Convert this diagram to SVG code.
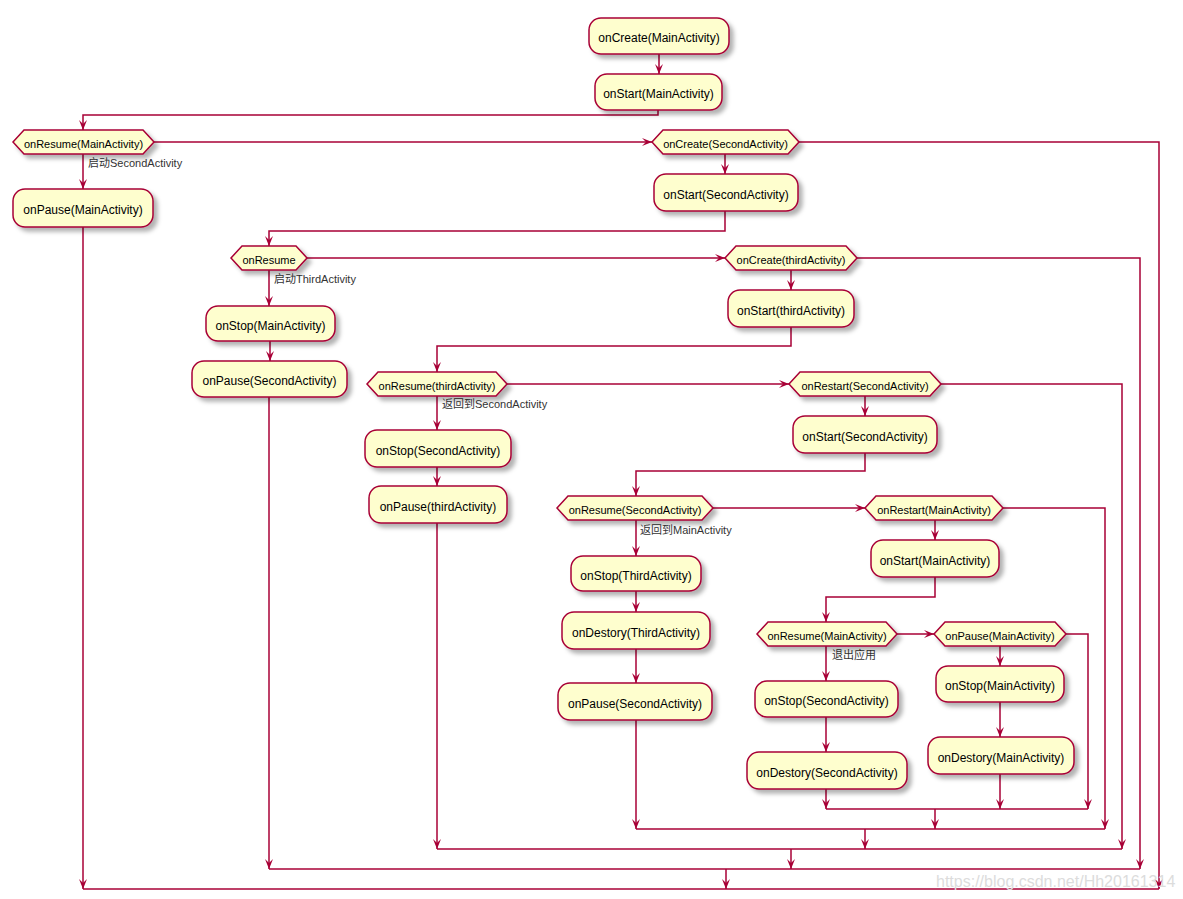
<svg xmlns="http://www.w3.org/2000/svg" width="1183" height="899" viewBox="0 0 1183 899">
<style>
.n rect, .n polygon { fill:#FEFECE; stroke:#A80036; stroke-width:1.5; filter:url(#sh); }
.n text { font-family:"Liberation Sans","Noto Sans CJK SC",sans-serif; font-size:12px; fill:#000; text-anchor:middle; }
.n.h text { font-size:11px; }
#conn path { fill:none; stroke:#A80036; stroke-width:1.5; }
#conn path.a { marker-end:url(#arr); }
.lbl { font-family:"Liberation Sans","Noto Sans CJK SC",sans-serif; font-size:11px; fill:#333; }
.wm { font-family:"Liberation Sans",sans-serif; font-size:16px; fill:#dcdcdc; }
</style>
<defs>
<filter id="sh" x="-20%" y="-30%" width="150%" height="180%">
<feGaussianBlur in="SourceAlpha" stdDeviation="2"/>
<feOffset dx="4" dy="4" result="b"/>
<feFlood flood-color="#000" flood-opacity="0.3"/>
<feComposite in2="b" operator="in"/>
<feMerge><feMergeNode/><feMergeNode in="SourceGraphic"/></feMerge>
</filter>
<marker id="arr" markerUnits="userSpaceOnUse" markerWidth="11" markerHeight="10" refX="10" refY="4" orient="auto">
<path d="M0,0 L10,4 L0,8 L4,4 Z" fill="#A80036"/>
</marker>
</defs>
<rect width="1183" height="899" fill="#fff"/>

<g id="conn">
<path class="a" d="M659,54 V74"/>
<path class="a" d="M658,110 V115 H83 V130"/>
<path class="a" d="M83,154 V189"/>
<path class="a" d="M154,142 H652"/>
<path class="a" d="M799,142 H1159 V889"/>
<path class="a" d="M725,154 V174"/>
<path class="a" d="M725,211 V231 H269 V246"/>
<path class="a" d="M83,227 V889"/>
<path class="a" d="M269,270 V306"/>
<path class="a" d="M307,258 H725"/>
<path class="a" d="M857,258 H1140 V869"/>
<path class="a" d="M791,270 V290"/>
<path class="a" d="M270,341 V361"/>
<path class="a" d="M269,397 V869"/>
<path class="a" d="M791,327 V346 H437 V372"/>
<path class="a" d="M437,396 V430"/>
<path class="a" d="M507,384 H789"/>
<path class="a" d="M941,384 H1122 V849"/>
<path class="a" d="M865,396 V416"/>
<path class="a" d="M437,467 V486"/>
<path class="a" d="M437,523 V849"/>
<path class="a" d="M865,453 V471 H636 V496"/>
<path class="a" d="M636,520 V556"/>
<path class="a" d="M713,508 H865"/>
<path class="a" d="M1003,508 H1105 V829"/>
<path class="a" d="M935,520 V540"/>
<path class="a" d="M636,591 V612"/>
<path class="a" d="M636,649 V683"/>
<path class="a" d="M636,720 V829"/>
<path class="a" d="M935,577 V597 H826 V622"/>
<path class="a" d="M826,646 V681"/>
<path class="a" d="M897,634 H934"/>
<path class="a" d="M1066,634 H1088 V809"/>
<path class="a" d="M1000,646 V666"/>
<path class="a" d="M826,717 V752"/>
<path class="a" d="M826,789 V809"/>
<path class="a" d="M1000,702 V737"/>
<path class="a" d="M1000,774 V809"/>
<path d="M826,809 H1088"/>
<path class="a" d="M935,809 V829"/>
<path d="M636,829 H1105"/>
<path class="a" d="M865,829 V849"/>
<path d="M437,849 H1122"/>
<path class="a" d="M791,849 V869"/>
<path d="M269,869 H1140"/>
<path class="a" d="M726,869 V889"/>
<path d="M83,889 H1159"/>
<text class="lbl" x="88" y="167">启动SecondActivity</text>
<text class="lbl" x="274" y="283">启动ThirdActivity</text>
<text class="lbl" x="442" y="408">返回到SecondActivity</text>
<text class="lbl" x="640" y="534">返回到MainActivity</text>
<text class="lbl" x="832" y="659">退出应用</text>
</g>

<g id="r1" class="n"><rect x="589" y="18" width="140" height="36" rx="12"/><text x="659" y="41.5">onCreate(MainActivity)</text></g>
<g id="r2" class="n"><rect x="595" y="74" width="127" height="36" rx="12"/><text x="658.5" y="97.5">onStart(MainActivity)</text></g>
<g id="h1" class="n h"><polygon points="13,142 24,130 143,130 154,142 143,154 24,154"/><text x="83.5" y="147.5">onResume(MainActivity)</text></g>
<g id="h2" class="n h"><polygon points="652,142 663,130 788,130 799,142 788,154 663,154"/><text x="725.5" y="147.5">onCreate(SecondActivity)</text></g>
<g id="r3" class="n"><rect x="13" y="189" width="140" height="38" rx="12"/><text x="83" y="213.5">onPause(MainActivity)</text></g>
<g id="r4" class="n"><rect x="654" y="174" width="144" height="37" rx="12"/><text x="726" y="198.5">onStart(SecondActivity)</text></g>
<g id="h3" class="n h"><polygon points="231,258 242,246 296,246 307,258 296,270 242,270"/><text x="269" y="263.5">onResume</text></g>
<g id="h4" class="n h"><polygon points="725,258 736,246 846,246 857,258 846,270 736,270"/><text x="791" y="263.5">onCreate(thirdActivity)</text></g>
<g id="r5" class="n"><rect x="206" y="306" width="129" height="35" rx="12"/><text x="270.5" y="329.5">onStop(MainActivity)</text></g>
<g id="r6" class="n"><rect x="192" y="361" width="155" height="36" rx="12"/><text x="269.5" y="384.5">onPause(SecondActivity)</text></g>
<g id="r7" class="n"><rect x="728" y="290" width="126" height="37" rx="12"/><text x="791" y="314.5">onStart(thirdActivity)</text></g>
<g id="h5" class="n h"><polygon points="367,384 378,372 496,372 507,384 496,396 378,396"/><text x="437" y="389.5">onResume(thirdActivity)</text></g>
<g id="h6" class="n h"><polygon points="789,384 800,372 930,372 941,384 930,396 800,396"/><text x="865" y="389.5">onRestart(SecondActivity)</text></g>
<g id="r8" class="n"><rect x="365" y="430" width="146" height="37" rx="12"/><text x="438" y="454.5">onStop(SecondActivity)</text></g>
<g id="r9" class="n"><rect x="369" y="486" width="138" height="37" rx="12"/><text x="438" y="510.5">onPause(thirdActivity)</text></g>
<g id="r10" class="n"><rect x="793" y="416" width="144" height="37" rx="12"/><text x="865" y="440.5">onStart(SecondActivity)</text></g>
<g id="h7" class="n h"><polygon points="557,508 568,496 702,496 713,508 702,520 568,520"/><text x="635" y="513.5">onResume(SecondActivity)</text></g>
<g id="h8" class="n h"><polygon points="865,508 876,496 992,496 1003,508 992,520 876,520"/><text x="934" y="513.5">onRestart(MainActivity)</text></g>
<g id="r11" class="n"><rect x="571" y="556" width="130" height="35" rx="12"/><text x="636" y="579.5">onStop(ThirdActivity)</text></g>
<g id="r12" class="n"><rect x="562" y="612" width="148" height="37" rx="12"/><text x="636" y="636.5">onDestory(ThirdActivity)</text></g>
<g id="r13" class="n"><rect x="558" y="683" width="154" height="37" rx="12"/><text x="635" y="707.5">onPause(SecondActivity)</text></g>
<g id="r14" class="n"><rect x="871" y="540" width="128" height="37" rx="12"/><text x="935" y="564.5">onStart(MainActivity)</text></g>
<g id="h9" class="n h"><polygon points="757,634 768,622 886,622 897,634 886,646 768,646"/><text x="827" y="639.5">onResume(MainActivity)</text></g>
<g id="h10" class="n h"><polygon points="934,634 945,622 1055,622 1066,634 1055,646 945,646"/><text x="1000" y="639.5">onPause(MainActivity)</text></g>
<g id="r15" class="n"><rect x="755" y="681" width="143" height="36" rx="12"/><text x="826.5" y="704.5">onStop(SecondActivity)</text></g>
<g id="r16" class="n"><rect x="747" y="752" width="160" height="37" rx="12"/><text x="827" y="776.5">onDestory(SecondActivity)</text></g>
<g id="r17" class="n"><rect x="936" y="666" width="128" height="36" rx="12"/><text x="1000" y="689.5">onStop(MainActivity)</text></g>
<g id="r18" class="n"><rect x="928" y="737" width="146" height="37" rx="12"/><text x="1001" y="761.5">onDestory(MainActivity)</text></g>

<text class="wm" x="936" y="887">https://blog.csdn.net/Hh20161314</text>
</svg>
